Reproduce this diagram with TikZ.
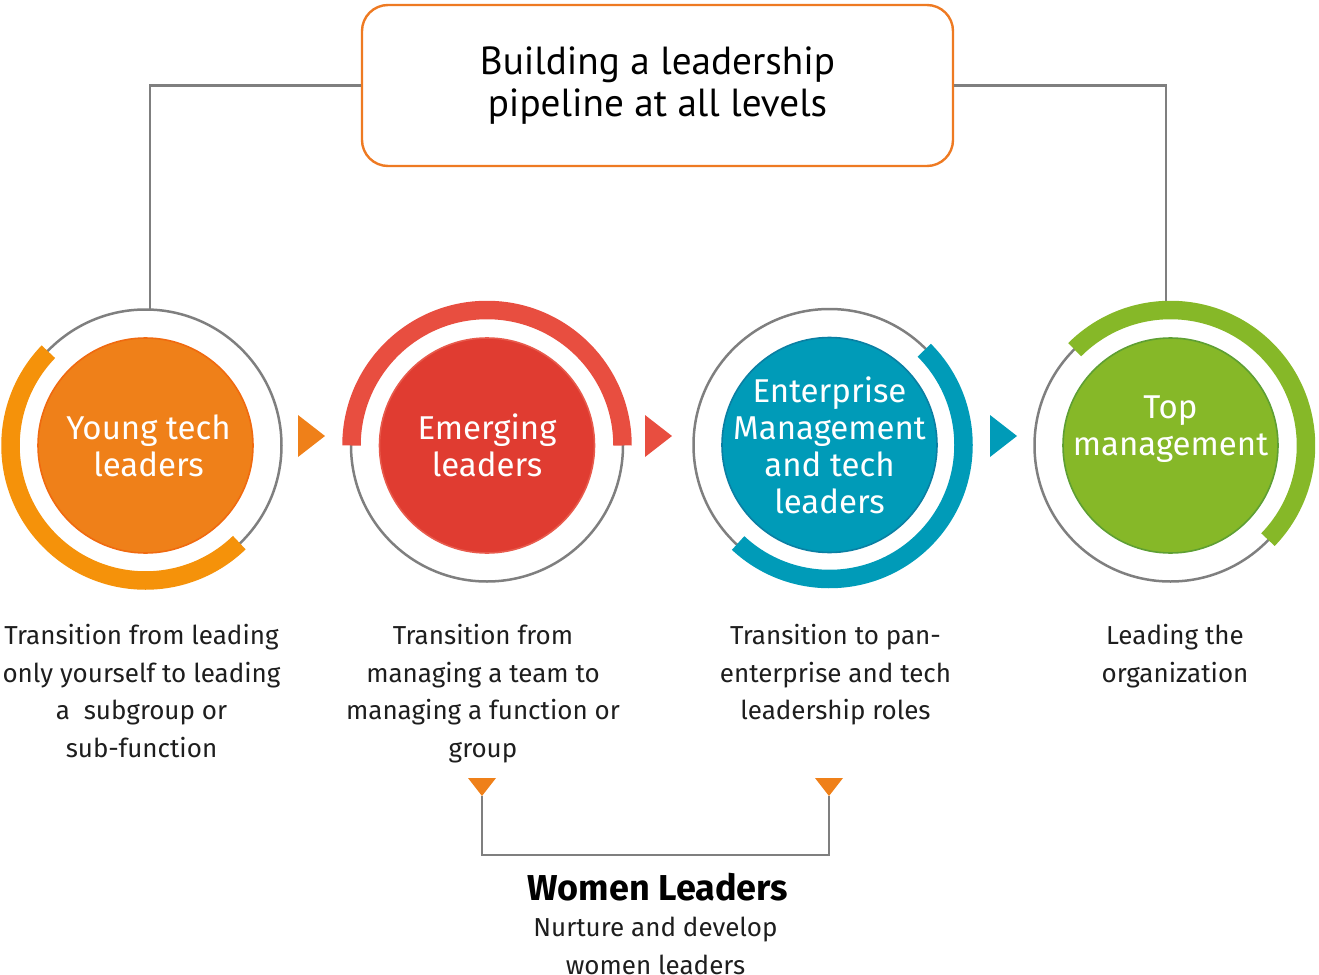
\documentclass[tikz,border=0pt]{standalone}
\usepackage{fontspec}
\setmainfont{Fira Sans}
\newfontfamily\titlefont{PT Sans}
\definecolor{cTitle}{HTML}{EE7A22}
\definecolor{cOrange}{HTML}{EF8019}
\definecolor{cOrangeEdge}{HTML}{F06A10}
\definecolor{cOrangeArc}{HTML}{F5920A}
\definecolor{cRed}{HTML}{E03C31}
\definecolor{cRedEdge}{HTML}{E85A4C}
\definecolor{cRedArc}{HTML}{E84E40}
\definecolor{cTeal}{HTML}{009BB8}
\definecolor{cTealEdge}{HTML}{0A7FA3}
\definecolor{cGreen}{HTML}{86B828}
\definecolor{cGreenEdge}{HTML}{5E9F33}
\definecolor{cGray}{HTML}{7F7F7F}
\definecolor{cText}{HTML}{1E1E1E}
\begin{document}
\begin{tikzpicture}[x=0.5pt,y=0.5pt,
  disc/.style={circle,minimum size=107.5pt,inner sep=-14pt,text=white,align=center,
    font=\fontsize{16.5}{18.5}\selectfont,line width=0.8pt},
  ring/.style={draw=cGray,line width=1.25pt},
  band/.style={line width=9.25pt},
  caption/.style={align=center,anchor=north,inner sep=0pt,text=cText,
    font=\fontsize{13}{18.75}\selectfont},
  link/.style={draw=cGray,line width=1.4pt}]
\useasboundingbox (0,0) rectangle (1319,-975);

% title
\node[draw=cTitle,line width=1.2pt,rounded corners=13pt,minimum width=295.5pt,
  minimum height=80.5pt,align=center,font=\titlefont\fontsize{19.6}{21}\selectfont]
  (title) at (657.5,-85.5) {Building a leadership\\pipeline at all levels};

% centres
\coordinate (c1) at (145.5,-445.5);
\coordinate (c2) at (487,-445.5);
\coordinate (c3) at (829.5,-445);
\coordinate (c4) at (1170.5,-445.5);

% gray rings
\foreach \c in {c1,c2,c3,c4} \draw[ring] (\c) circle[radius=136];

% coloured bands
\draw[band,cOrangeArc] ([shift={(136:135)}]c1) arc[start angle=136,end angle=314,radius=135];
\draw[band,cRedArc] ([shift={(180:135.5)}]c2) arc[start angle=180,end angle=0,radius=135.5];
\draw[band,cTeal] ([shift={(45:134)}]c3) arc[start angle=45,end angle=-133,radius=134];
\draw[band,cGreen] ([shift={(135:135.5)}]c4) arc[start angle=135,end angle=-44,radius=135.5];

% discs
\node[disc,fill=cOrange,draw=cOrangeEdge] (n1) at (c1) {\hspace*{3pt}Young tech\\\hspace*{3pt}leaders};
\node[disc,fill=cRed,draw=cRedEdge] (n2) at (c2) {Emerging\\leaders};
\node[disc,fill=cTeal,draw=cTealEdge] (n3) at (c3) {Enterprise\\Management\\and tech\\leaders};
\node[disc,fill=cGreen,draw=cGreenEdge] (n4) at (c4) {Top\\management\\[1.5pt]\mbox{}};

% arrows between circles
\fill[cOrange] (298,-415) -- (325,-436) -- (298,-457) -- cycle;
\fill[cRedArc] (645,-415) -- (672,-436) -- (645,-457) -- cycle;
\fill[cTeal] (990,-415) -- (1017,-436) -- (990,-457) -- cycle;

% links from title
\coordinate (r1top) at (150,-310);
\coordinate (r4top) at (1166,-301);
\draw[link] (title.west) -| (r1top);
\draw[link] (title.east) -| (r4top);

% captions
\node[caption] (t1) at (141.5,-624) {Transition from leading\\only yourself to leading\\a\ \ subgroup or\\sub-function};
\node[caption] (t2) at (483,-624) {Transition from\\managing a team to\\managing a function or\\group};
\node[caption] (t3) at (835.5,-624) {Transition to pan-\\enterprise and tech\\leadership roles};
\node[caption] (t4) at (1175,-624) {Leading the\\organization};

% women leaders bracket
\coordinate (wl) at (482,-796);
\coordinate (wr) at (829,-796);
\coordinate (wbar) at (655.5,-855);
\draw[link] (wl) |- (wbar) -| (wr);
\fill[cOrange] (468,-778) -- (496,-778) -- (wl) -- cycle;
\fill[cOrange] (815,-778) -- (843,-778) -- (wr) -- cycle;

\node[anchor=base,inner sep=0pt,text=black,font=\fontsize{18}{21}\selectfont\bfseries]
  (women) at (658,-900) {Women Leaders};
\node[caption] (wcap) at (655.5,-917) {Nurture and develop\\women leaders};
\end{tikzpicture}
\end{document}
